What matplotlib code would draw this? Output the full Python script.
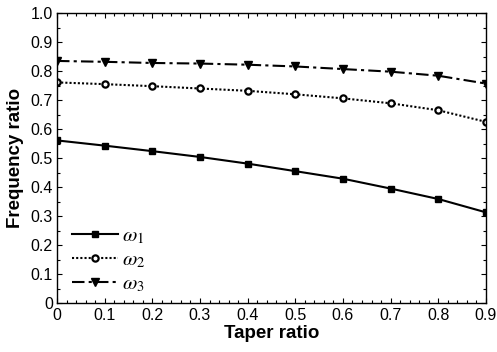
import matplotlib
matplotlib.use("Agg")
import matplotlib.pyplot as plt
from matplotlib.ticker import MultipleLocator, FuncFormatter

# taper ratio vs frequency ratio
taper = [0.0, 0.1, 0.2, 0.3, 0.4, 0.5, 0.6, 0.7, 0.8, 0.9]
omega1 = [0.562, 0.544, 0.525, 0.505, 0.482, 0.456, 0.430, 0.396, 0.360, 0.314]
omega2 = [0.762, 0.756, 0.749, 0.741, 0.733, 0.721, 0.707, 0.690, 0.666, 0.626]
omega3 = [0.836, 0.833, 0.829, 0.827, 0.823, 0.817, 0.808, 0.799, 0.785, 0.758]
labels = [r"$\omega_1$", r"$\omega_2$", r"$\omega_3$"]

plt.rcParams["font.family"] = ["Liberation Sans", "DejaVu Sans"]
plt.rcParams["mathtext.fontset"] = "stix"

fig = plt.figure(figsize=(4.97, 3.52), dpi=100)
ax = fig.add_axes([0.1147, 0.138, 0.863, 0.824])

ax.plot(taper, omega1, color="black", ls="-", lw=1.5, marker="s", ms=5, label=labels[0])
ax.plot(taper, omega2, color="black", ls=(0, (1, 1)), lw=1.5, marker="o", ms=4.5,
        mfc="white", mew=1.6, label=labels[1])
ax.plot(taper, omega3, color="black", ls=(0, (6, 2, 1.5, 2)), lw=1.5, marker="v", ms=6,
        label=labels[2])

ax.set_xlim(0, 0.9)
ax.set_ylim(0, 1.0)
ax.xaxis.set_major_locator(MultipleLocator(0.1))
ax.xaxis.set_minor_locator(MultipleLocator(0.02))
ax.yaxis.set_major_locator(MultipleLocator(0.1))
ax.yaxis.set_minor_locator(MultipleLocator(0.05))
fmt = FuncFormatter(lambda v, p: "0" if abs(v) < 1e-9 else f"{v:.1f}")
ax.xaxis.set_major_formatter(fmt)
ax.yaxis.set_major_formatter(fmt)
ax.tick_params(which="both", direction="in", top=True, right=True, labelsize=11.5, width=0.8)
ax.tick_params(which="major", length=3.5, pad=3)
ax.tick_params(which="minor", length=2)
for s in ax.spines.values():
    s.set_linewidth(1.0)

lab_font = dict(family=["Liberation Sans", "DejaVu Sans"], weight="bold", size=13.5)
ax.set_xlabel("Taper ratio", fontdict=lab_font, labelpad=2)
ax.set_ylabel("Frequency ratio", fontdict=lab_font, labelpad=5)

leg = ax.legend(loc="lower left", frameon=False, handlelength=2.2, fontsize=15,
                borderaxespad=0.2, handletextpad=0.2, labelspacing=0.22,
                bbox_to_anchor=(0.006, -0.012))

fig.savefig("out.png", dpi=100)
